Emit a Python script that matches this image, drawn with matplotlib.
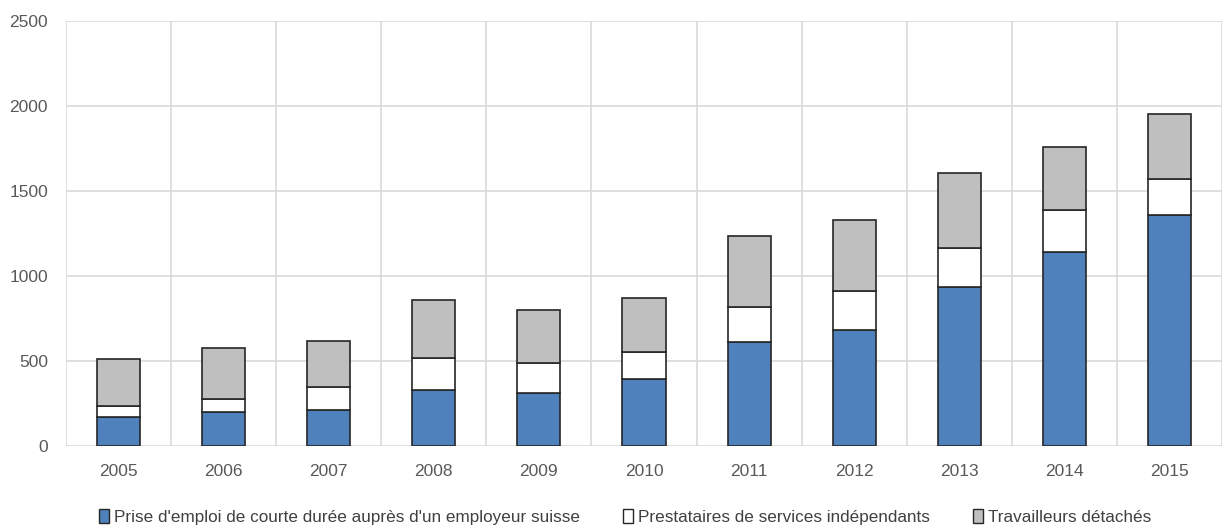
import matplotlib
matplotlib.use("Agg")
import matplotlib.pyplot as plt
from matplotlib.patches import Patch
from matplotlib import font_manager
import numpy as np

years = ["2005", "2006", "2007", "2008", "2009", "2010",
         "2011", "2012", "2013", "2014", "2015"]
courte_duree = [170, 202, 212, 329, 310, 394, 609, 684, 933, 1140, 1356]
prestataires = [65, 76, 133, 188, 176, 158, 210, 225, 233, 249, 215]
detaches = [274, 298, 272, 341, 313, 316, 413, 421, 439, 366, 382]
series_names = ["Prise d'emploi de courte durée auprès d'un employeur suisse",
                "Prestataires de services indépendants",
                "Travailleurs détachés"]
yticks = [0, 500, 1000, 1500, 2000, 2500]

names = {f.name for f in font_manager.fontManager.ttflist}
base_font = "Liberation Sans" if "Liberation Sans" in names else "DejaVu Sans"
narrow_font = "Liberation Sans Narrow" if "Liberation Sans Narrow" in names else base_font
plt.rcParams["font.family"] = [base_font, "DejaVu Sans"]

blue = "#4F81BD"
white = "#FFFFFF"
grey = "#BFBFBF"
edge = "#262626"
grid_c = "#D9D9D9"
text_c = "#595959"

fig = plt.figure(figsize=(12.23, 5.29), dpi=100)
ax = fig.add_axes([66 / 1223, 1 - 446 / 529, (1222 - 66) / 1223, 425.3 / 529])

x = np.arange(len(years))
w = 0.41
b1 = np.array(courte_duree)
b2 = b1 + np.array(prestataires)
ax.bar(x, courte_duree, w, color=blue, edgecolor=edge, linewidth=1.2, zorder=3)
ax.bar(x, prestataires, w, bottom=b1, color=white, edgecolor=edge, linewidth=1.2, zorder=3)
ax.bar(x, detaches, w, bottom=b2, color=grey, edgecolor=edge, linewidth=1.2, zorder=3)

ax.set_xlim(-0.5, len(years) - 0.5)
ax.set_ylim(0, 2500)
ax.set_yticks(yticks)
ax.set_yticklabels([str(v) for v in yticks])
ax.set_xticks(x)
ax.set_xticklabels(years)
ax.set_xticks(np.arange(-0.5, len(years)), minor=True)
ax.tick_params(axis="both", which="both", length=0, colors=text_c, labelsize=12.5)
ax.tick_params(axis="y", pad=13)
ax.tick_params(axis="x", pad=13)
ax.grid(True, which="major", axis="y", color=grid_c, linewidth=1.2, zorder=0)
ax.grid(True, which="minor", axis="x", color=grid_c, linewidth=1.2, zorder=0)
for s in ax.spines.values():
    s.set_visible(False)

handles = [Patch(facecolor=c, edgecolor=edge, linewidth=1.0) for c in (blue, white, grey)]
leg = fig.legend(handles, series_names, loc="center", bbox_to_anchor=(625 / 1223, 1 - 517 / 529),
                 ncol=3, frameon=False, handlelength=0.6, handleheight=0.9,
                 handletextpad=0.3, columnspacing=2.5,
                 prop={"family": [narrow_font, "DejaVu Sans"], "size": 12.3})
for t in leg.get_texts():
    t.set_color("#404040")

fig.savefig("out.png", dpi=100)
